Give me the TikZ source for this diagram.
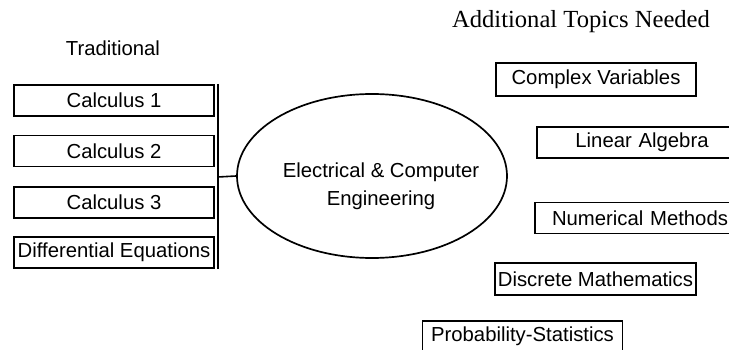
\documentclass[tikz,border=0pt]{standalone}
\usepackage{fontspec}
\setmainfont{Liberation Sans}
\newfontfamily\serifface{Liberation Serif}
\usetikzlibrary{shapes.geometric}
\begin{document}
\begin{tikzpicture}[x=1pt,y=-1pt,
  topicbox/.style={draw,line width=1.5pt,inner sep=0pt,
    font=\fontsize{20.3}{24}\selectfont},
  labeltext/.style={inner sep=0pt,font=\fontsize{20.3}{24}\selectfont},
  link/.style={line width=1.6pt}]
\useasboundingbox (0,0) rectangle (729,350);
\clip (0,0) rectangle (729,350);
% headings
\node[labeltext] (trad) at (113,48) {Traditional};
\node[inner sep=0pt,font=\serifface\fontsize{24.6}{28}\selectfont] (add) at (581,22) {Additional Topics Needed};
% left boxes
\node[topicbox,minimum width=200pt,minimum height=31pt] (c1) at (114,100.5) {Calculus 1};
\node[topicbox,minimum width=200pt,minimum height=31pt] (c2) at (114,151) {Calculus 2};
\node[topicbox,minimum width=200pt,minimum height=31pt] (c3) at (114,202.5) {Calculus 3};
\node[topicbox,minimum width=200pt,minimum height=31pt] (de) at (114,252.5) {Differential Equations};
% ellipse
\node[ellipse,draw,line width=1.7pt,minimum width=270pt,minimum height=164pt,inner sep=0pt] (ece) at (372,176) {};
\node[labeltext,align=center,font=\fontsize{20.3}{28}\selectfont] (ecet) at (381,186) {Electrical \& Computer\\Engineering};
% bracket
\coordinate (vt) at (218,84);
\coordinate (vb) at (218,269);
\coordinate (vm) at (218,177);
\draw[link] (vt) -- (vb);
\draw[link] (vm) -- (ece.west);
% right boxes
\node[topicbox,minimum width=200pt,minimum height=33pt] (cv) at (596,79.5) {Complex Variables};
\node[topicbox,minimum width=210pt,minimum height=31pt,text width=190pt,align=center] (la) at (642,142.5) {Linear Algebra};
\node[topicbox,minimum width=210pt,minimum height=31pt,text width=192pt,align=center] (nm) at (640,218) {Numerical Methods};
\node[topicbox,minimum width=201pt,minimum height=32pt] (dm) at (595.5,279) {Discrete Mathematics};
\node[topicbox,minimum width=200pt,minimum height=40pt,text depth=0pt] (ps) at (522.5,341) {};
\node[labeltext] (pst) at (522.5,336) {Probability-Statistics};
\end{tikzpicture}
\end{document}
